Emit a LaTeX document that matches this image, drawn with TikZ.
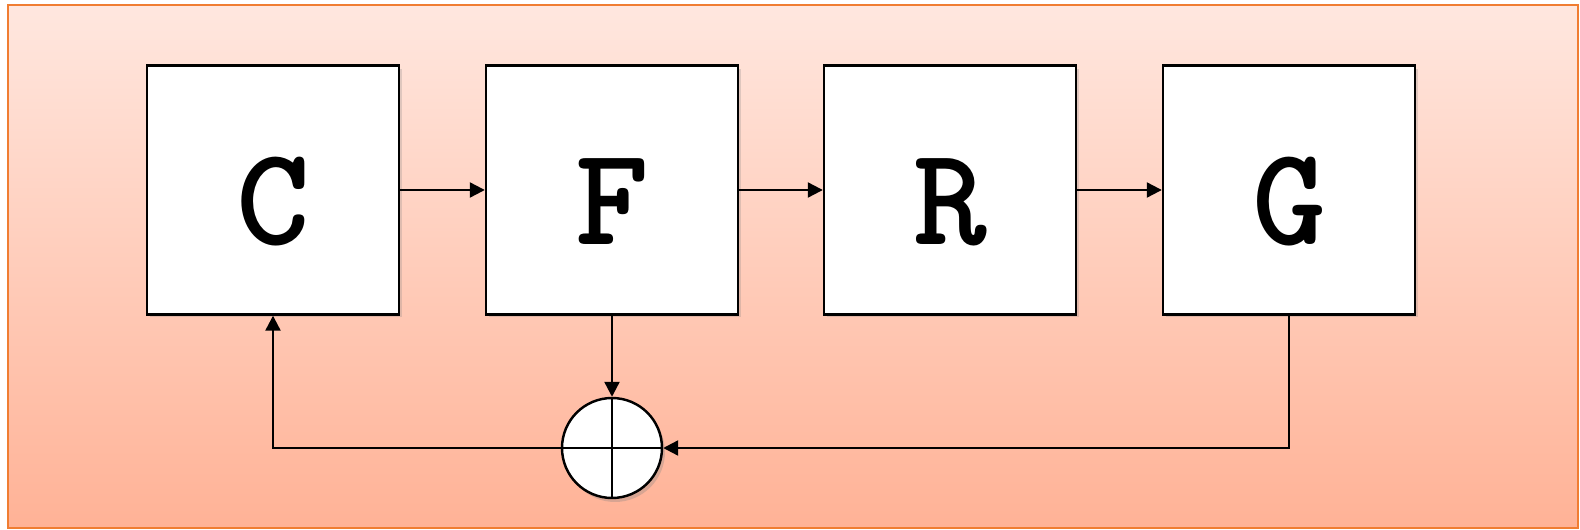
\documentclass[tikz,border=0pt]{standalone}
\usepackage{fontspec}
\usetikzlibrary{arrows.meta,shadows,calc}
\definecolor{bgtop}{RGB}{255,231,223}
\definecolor{bgbot}{RGB}{255,178,150}
\definecolor{frameor}{RGB}{240,125,50}
\tikzset{
  block/.style={draw=black, line width=1.4pt, fill=white, minimum width=5.04cm,
    minimum height=4.98cm, inner sep=0pt,
    drop shadow={shadow xshift=0.06cm, shadow yshift=-0.06cm, opacity=0.25}},
  label/.style={font=\ttfamily\bfseries\fontsize{80}{82}\selectfont, inner sep=0pt},
  summer/.style={draw=black, line width=1.4pt, fill=white, circle, minimum size=2.0cm,
    inner sep=0pt, drop shadow={shadow xshift=0.06cm, shadow yshift=-0.08cm, opacity=0.3}},
  flow/.style={line width=1.3pt, -{Triangle[length=0.3cm,width=0.3cm]}},
}
\begin{document}
\begin{tikzpicture}[x=0.02cm, y=-0.02cm]
  \useasboundingbox (0,0) rectangle (1580,530);
  % framed background panel
  \shade[top color=bgtop, bottom color=bgbot] (8,5) rectangle (1578,528);
  \draw[frameor, line width=1.6pt] (8,5) rectangle (1578,528);
  % blocks
  \foreach \n/\x in {C/273, F/612, R/950, G/1289}{
    \node[block] (\n) at (\x,190) {};
    \node[label] (\n-txt) at ($(\n.center)+(0,12)$) {\n};
  }
  % summing junction
  \node[summer] (S) at (612,448) {};
  \draw[line width=1.4pt] (S.north) -- (S.south) (S.west) -- (S.east);
  % forward path
  \draw[flow] (C.east) -- (F.west);
  \draw[flow] (F.east) -- (R.west);
  \draw[flow] (R.east) -- (G.west);
  % into the junction
  \draw[flow] (F.south) -- (S.north);
  \draw[flow] (G.south) |- (S.east);
  % feedback to C
  \draw[flow] (S.west) -| (C.south);
\end{tikzpicture}
\end{document}
